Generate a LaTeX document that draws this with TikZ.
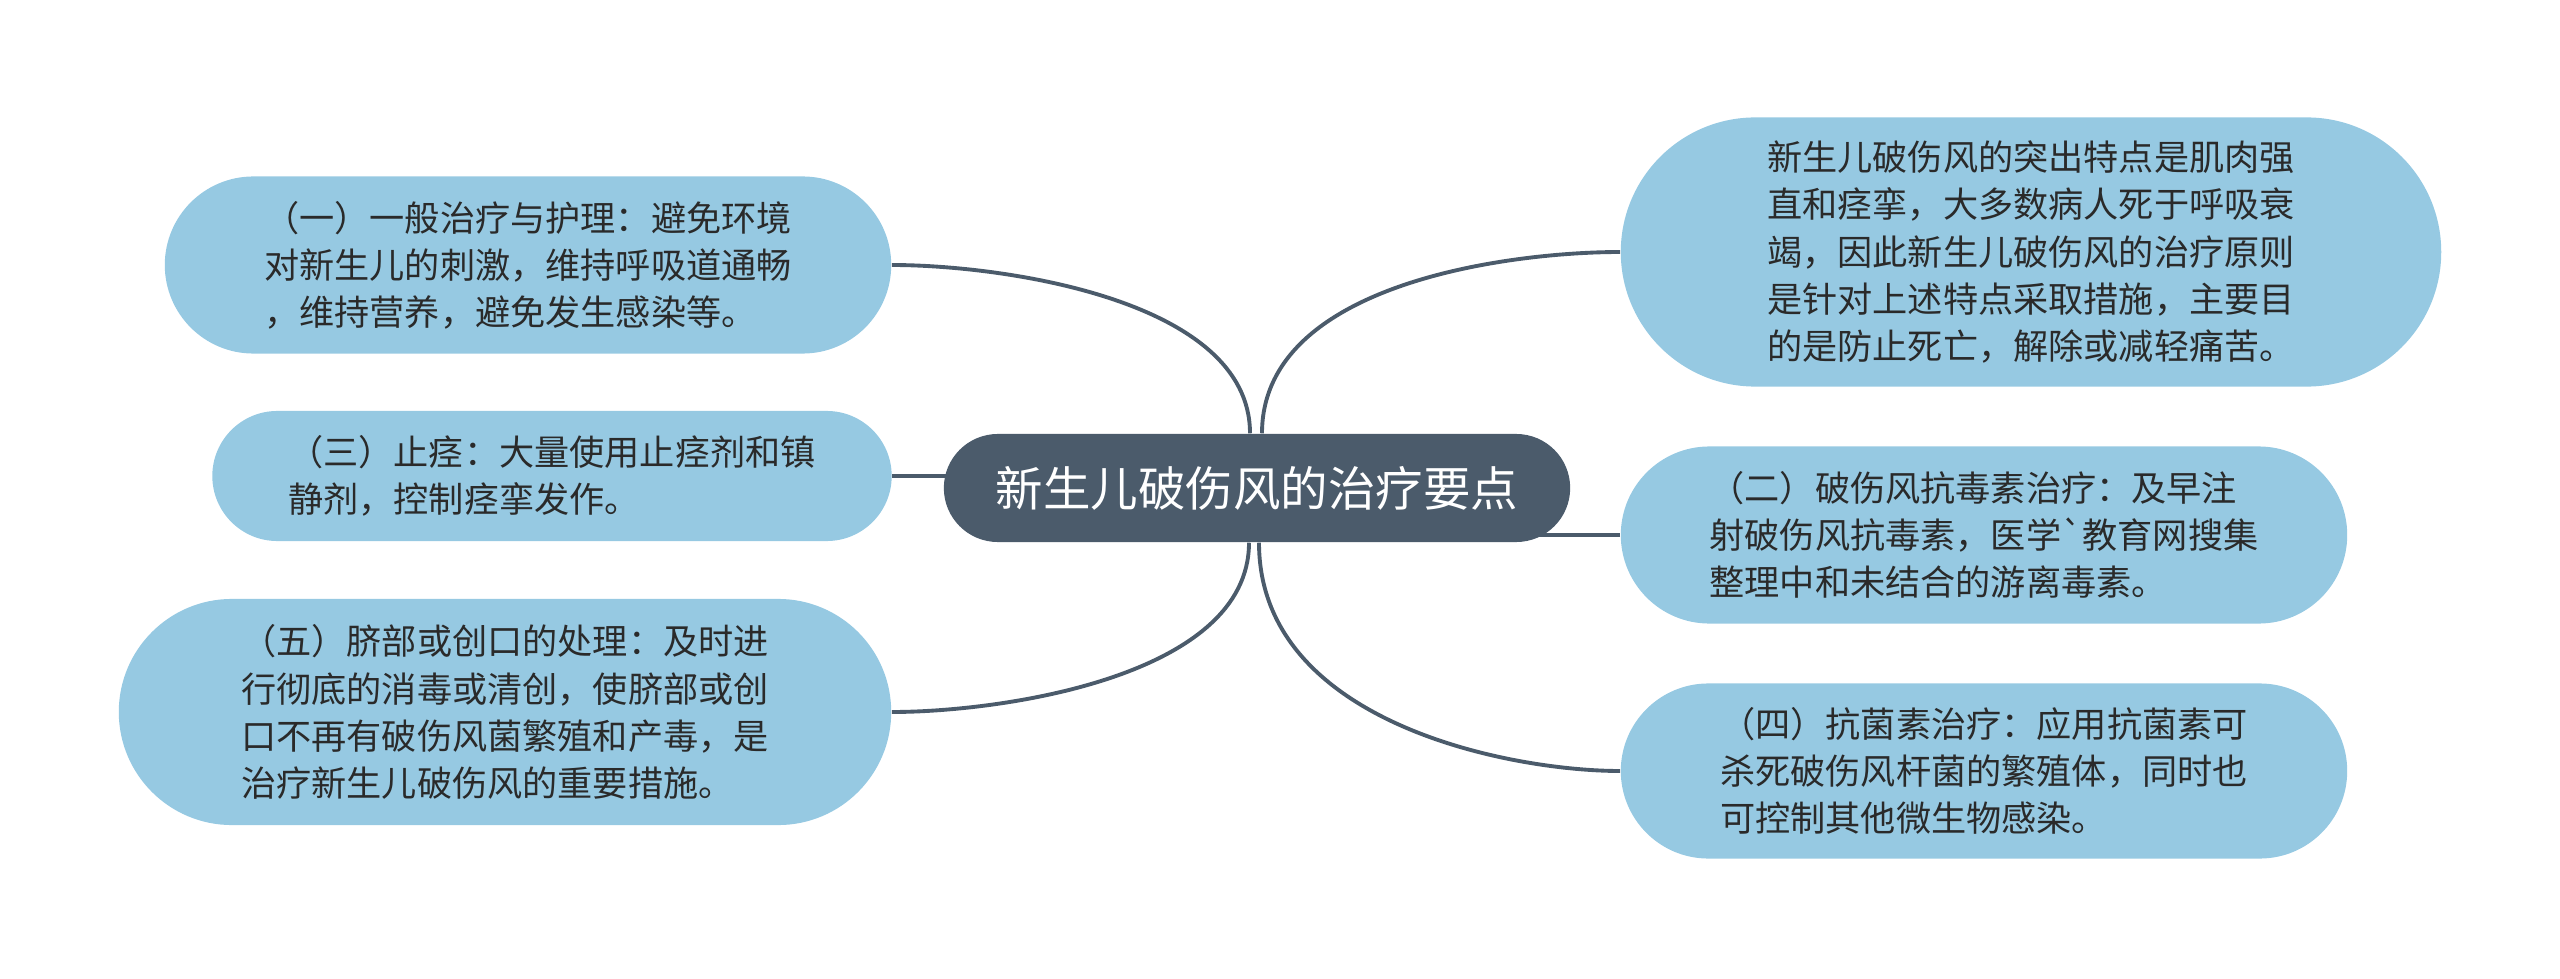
\documentclass[tikz,border=0pt]{standalone}
\usepackage{fontspec}
\newfontfamily\cjk{Noto Sans CJK SC}
\usetikzlibrary{shapes.misc,backgrounds}
\definecolor{hub}{HTML}{4B5B6B}
\definecolor{leaf}{HTML}{96C9E2}
\definecolor{ink}{HTML}{2A2A2A}

\begin{document}
\begin{tikzpicture}[x=0.01cm,y=0.01cm,
  hubbox/.style={rounded rectangle,fill=hub,text=white,inner sep=0pt,minimum width=6.26cm,minimum height=1.08cm,font=\cjk\fontsize{13.5}{16}\selectfont},
  leafbox/.style={rounded rectangle,fill=leaf,text=ink,inner sep=0pt,align=left,font=\cjk\fontsize{10}{13.4}\selectfont},
  link/.style={draw=hub,line width=1.1pt}]
\path (0,0) rectangle (2560,978);
\node[hubbox] (hub) at (1257,490) {新生儿破伤风的治疗要点};
\node[leafbox,minimum width=7.26cm,minimum height=1.77cm] (one) at (528,713) {（一）一般治疗与护理：避免环境\\对新生儿的刺激，维持呼吸道通畅\\，维持营养，避免发生感染等。};
\node[leafbox,minimum width=6.79cm,minimum height=1.30cm] (three) at (552,502) {（三）止痉：大量使用止痉剂和镇\\静剂，控制痉挛发作。};
\node[leafbox,minimum width=7.72cm,minimum height=2.26cm] (five) at (505,266) {（五）脐部或创口的处理：及时进\\行彻底的消毒或清创，使脐部或创\\口不再有破伤风菌繁殖和产毒，是\\治疗新生儿破伤风的重要措施。};
\node[leafbox,minimum width=8.20cm,minimum height=2.69cm] (aim) at (2031,726) {新生儿破伤风的突出特点是肌肉强\\直和痉挛，大多数病人死于呼吸衰\\竭，因此新生儿破伤风的治疗原则\\是针对上述特点采取措施，主要目\\的是防止死亡，解除或减轻痛苦。};
\node[leafbox,minimum width=7.26cm,minimum height=1.77cm] (two) at (1984,443) {（二）破伤风抗毒素治疗：及早注\\射破伤风抗毒素，医学`教育网搜集\\整理中和未结合的游离毒素。};
\node[leafbox,minimum width=7.26cm,minimum height=1.75cm] (four) at (1984,207) {（四）抗菌素治疗：应用抗菌素可\\杀死破伤风杆菌的繁殖体，同时也\\可控制其他微生物感染。};
\begin{scope}[on background layer]
\draw[link] ([xshift=-0.07cm]hub.north) .. controls +(0,134) and +(109,0) .. (one.east);
\draw[link] ([xshift=0.05cm]hub.north) .. controls +(0,150) and +(-110,0) .. (aim.west);
\draw[link] (three.east) -- (three.east -| hub.center);
\draw[link] (two.west) -- (two.west -| hub.center);
\draw[link] ([xshift=-0.08cm]hub.south) .. controls +(0,-134) and +(109,0) .. (five.east);
\draw[link] ([xshift=0.02cm]hub.south) .. controls +(0,-180) and +(-110,0) .. (four.west);
\end{scope}
\end{tikzpicture}
\end{document}
